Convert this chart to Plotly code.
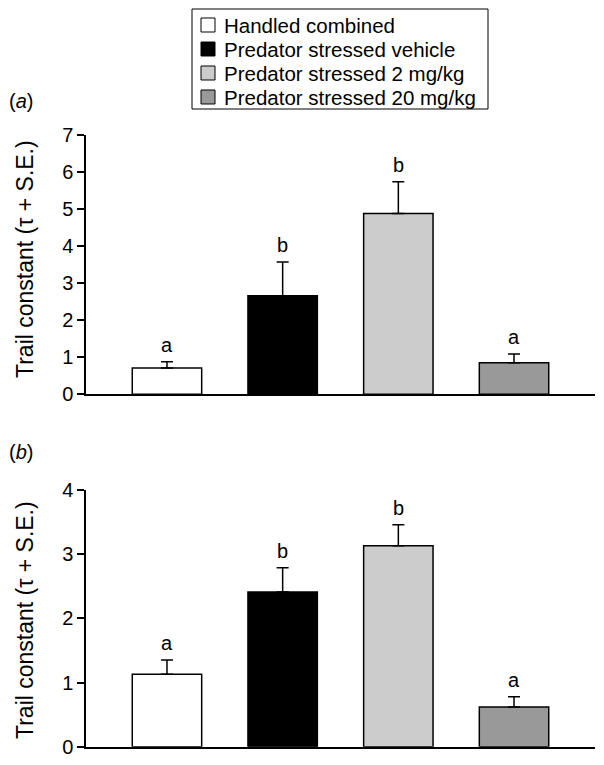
import plotly.graph_objects as go

groups = ["Handled combined", "Predator stressed vehicle",
          "Predator stressed 2 mg/kg", "Predator stressed 20 mg/kg"]
colors = ["#ffffff", "#000000", "#cccccc", "#999999"]

a_means = [0.71, 2.66, 4.88, 0.85]
a_se = [0.17, 0.91, 0.86, 0.24]
a_letters = ["a", "b", "b", "a"]

b_means = [1.13, 2.41, 3.13, 0.62]
b_se = [0.22, 0.38, 0.33, 0.16]
b_letters = ["a", "b", "b", "a"]

panel_labels = ["(<i>a</i>)", "(<i>b</i>)"]
ytitle = "Trail constant (τ + S.E.)"

FONT = "Liberation Sans, Arial, Helvetica, sans-serif"
OFF = 8  # page body margin in the browser
W, H = 604 - OFF, 765 - OFF
L, R = 86 - OFF, 9
PW = W - L - R


def px(p):
    """page x pixel -> paper x"""
    return (p - OFF - L) / PW


def py(p):
    """page y pixel -> paper y"""
    return 1 - (p - OFF) / H


fig = go.Figure()

for means, se, xa, ya in [(a_means, a_se, "x", "y"), (b_means, b_se, "x2", "y2")]:
    for i, g in enumerate(groups):
        fig.add_trace(go.Bar(
            x=[i], y=[means[i]], width=0.6, name=g,
            marker=dict(color=colors[i], line=dict(color="black", width=1.5)),
            error_y=dict(type="data", symmetric=False, array=[se[i]],
                         arrayminus=[0], color="black", thickness=1.5, width=6),
            xaxis=xa, yaxis=ya, showlegend=False,
        ))

annotations = []
shapes = []
for means, se, letters, xr, yr in [(a_means, a_se, a_letters, "x", "y"),
                                   (b_means, b_se, b_letters, "x2", "y2")]:
    for i in range(len(means)):
        annotations.append(dict(
            x=i, y=means[i] + se[i], xref=xr, yref=yr, text=letters[i],
            showarrow=False, yanchor="bottom", yshift=4,
            font=dict(size=20, color="black", family=FONT)))

for lbl, yc in zip(panel_labels, [101, 452]):
    annotations.append(dict(x=px(7), y=py(yc), xref="paper", yref="paper",
                            text=lbl, showarrow=False, xanchor="left",
                            yanchor="middle",
                            font=dict(size=20, color="black", family=FONT)))

for yc in [259, 620]:
    annotations.append(dict(x=px(25), y=py(yc), xref="paper", yref="paper",
                            text=ytitle, showarrow=False, textangle=-90,
                            xanchor="center", yanchor="middle",
                            font=dict(size=23, color="black", family=FONT)))

# legend box (drawn as shapes + text so its spacing matches the original)
shapes.append(dict(type="rect", xref="paper", yref="paper",
                   x0=px(192), x1=px(488), y0=py(109), y1=py(9),
                   line=dict(color="black", width=1), fillcolor="white", layer="above"))
for k, (g, c) in enumerate(zip(groups, colors)):
    yc = 25 + 24 * k
    shapes.append(dict(type="rect", xref="paper", yref="paper",
                       x0=px(201), x1=px(215), y0=py(yc + 7), y1=py(yc - 7),
                       line=dict(color="black", width=1), fillcolor=c, layer="above"))
    annotations.append(dict(x=px(222), y=py(yc), xref="paper", yref="paper",
                            text=g, showarrow=False, xanchor="left", yanchor="middle",
                            font=dict(size=20.5, color="black", family=FONT)))

common_x = dict(range=[-0.70, 3.70], showline=True, linecolor="black", linewidth=1.5,
                showticklabels=False, ticks="", showgrid=False, zeroline=False,
                automargin=False, fixedrange=True)
common_y = dict(showline=True, linecolor="black", linewidth=1.5, ticks="outside",
                ticklen=7, tickwidth=1.5, tickcolor="black", showgrid=False,
                zeroline=False, automargin=False,
                tickfont=dict(size=20, color="black", family=FONT))

fig.update_layout(
    template="none",
    width=W, height=H,
    margin=dict(l=L, r=R, t=0, b=0, pad=0),
    paper_bgcolor="white", plot_bgcolor="white",
    font=dict(family=FONT, color="black"),
    barmode="overlay",
    xaxis=dict(domain=[0, 1], anchor="y", **common_x),
    yaxis=dict(domain=[py(394.3), py(135)], anchor="x",
               range=[0, 7], dtick=1, **common_y),
    xaxis2=dict(domain=[0, 1], anchor="y2", **common_x),
    yaxis2=dict(domain=[py(746.7), py(490)], anchor="x2",
                range=[0, 4], dtick=1, **common_y),
    annotations=annotations,
    shapes=shapes,
    showlegend=False,
)

fig.write_html("out.html")
